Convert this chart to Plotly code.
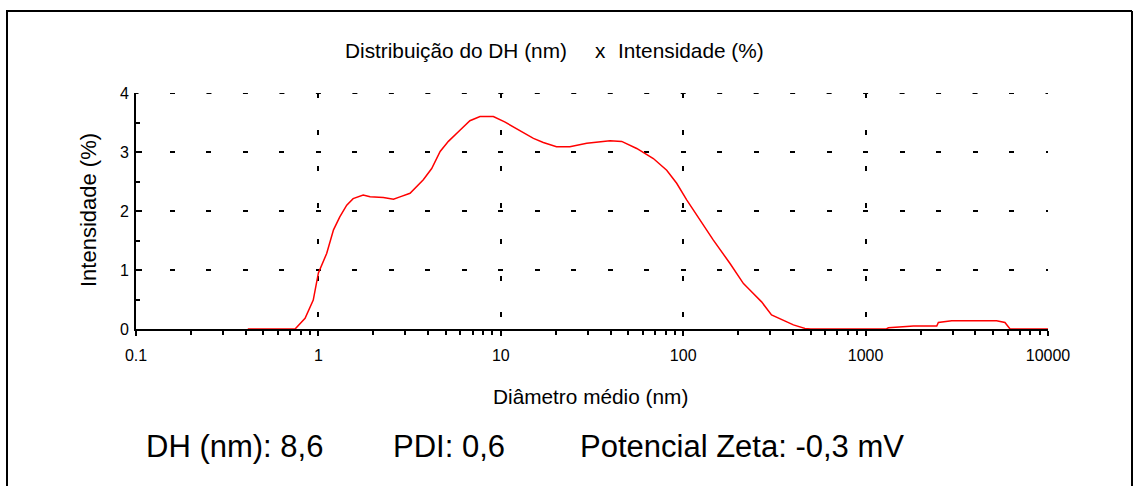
import plotly.graph_objects as go

# Data
diam_nm = [0.41, 0.745, 0.845, 0.937, 1.0, 1.11, 1.21, 1.31, 1.43, 1.55, 1.76, 1.92, 2.27, 2.58, 2.80,
           3.18, 3.76, 4.18, 4.65, 5.16, 5.97, 6.77, 7.69, 9.1, 10.5, 12.7, 15.1, 17.1, 20.2, 23.9,
           29.6, 39.7, 46.0, 55.6, 68.6, 81.2, 92.1, 104.5, 123.6, 146, 180.6, 214, 232, 269, 305,
           354, 402, 465, 500, 1300, 1334, 1832, 2455, 2506, 2966, 5227, 5807, 6194, 10000]
intensity = [0, 0, 0.18, 0.49, 0.95, 1.28, 1.68, 1.90, 2.10, 2.21, 2.27, 2.24, 2.23, 2.20, 2.24,
             2.30, 2.53, 2.72, 3.01, 3.18, 3.37, 3.53, 3.60, 3.60, 3.51, 3.37, 3.23, 3.16, 3.09, 3.09,
             3.15, 3.19, 3.18, 3.06, 2.89, 2.69, 2.47, 2.19, 1.85, 1.51, 1.11, 0.77, 0.66, 0.46, 0.24,
             0.15, 0.07, 0.01, 0, 0, 0.02, 0.05, 0.05, 0.11, 0.14, 0.14, 0.11, 0, 0]

x_tickvals = [0.1, 1, 10, 100, 1000, 10000]
x_ticktext = ["0.1", "1", "10", "100", "1000", "10000"]
y_tickvals = [0, 1, 2, 3, 4]
y_max = 4

title_parts = ["Distribuição do DH (nm)", "x", "Intensidade (%)"]
x_title = "Diâmetro médio (nm)"
y_title = "Intensidade (%)"
stats = ["DH (nm): 8,6", "PDI: 0,6", "Potencial Zeta: -0,3 mV"]

W, H = 1134, 486
L, R, T, B = 136, 1048, 93, 329  # plot area in pixels
HDASH = "2.5px,31.48px,2.5px,0px"


def px(xp):
    return (xp - L) / (R - L)


def py(yp):
    return (B - yp) / (B - T)


FONT = "Liberation Sans, Arial, sans-serif"

fig = go.Figure()
fig.add_trace(go.Scatter(x=diam_nm, y=intensity, mode="lines",
                         line=dict(color="#ff0000", width=1.5), showlegend=False,
                         hoverinfo="skip"))

fig.update_layout(
    width=W, height=H,
    margin=dict(l=L, r=W - R, t=T, b=H - B),
    paper_bgcolor="white", plot_bgcolor="white",
    font=dict(family=FONT, color="black"),
    xaxis=dict(type="log", range=[-1, 4], tickvals=x_tickvals, ticktext=x_ticktext,
               showline=True, linecolor="black", linewidth=2,
               ticks="outside", ticklen=5, tickcolor="black", tickwidth=1.5,
               tickfont=dict(size=16, color="black"), ticklabelstandoff=6,
               showgrid=True, gridcolor="black", gridwidth=2, griddash="5px,31.5px",
               minor=dict(ticks="outside", ticklen=4, tickcolor="black", tickwidth=1.5,
                          dtick="D1", showgrid=False),
               zeroline=False),
    yaxis=dict(range=[0, y_max], tickvals=y_tickvals,
               showline=True, linecolor="black", linewidth=2,
               ticks="inside", ticklen=6, tickcolor="black", tickwidth=1.5,
               tickfont=dict(size=16, color="black"), ticklabelstandoff=2,
               showgrid=True, gridcolor="black", gridwidth=2,
               griddash=HDASH,
               minor=dict(ticks="inside", ticklen=4, tickcolor="black", tickwidth=1.5,
                          dtick=0.5, showgrid=False),
               zeroline=False),
)

ann = []
ann.append(dict(text=title_parts[0], x=px(343), y=py(50), xanchor="left", yanchor="middle",
                font=dict(size=20.8)))
ann.append(dict(text=title_parts[1], x=px(593), y=py(50), xanchor="left", yanchor="middle",
                font=dict(size=20.8)))
ann.append(dict(text=title_parts[2], x=px(616), y=py(50), xanchor="left", yanchor="middle",
                font=dict(size=20.8)))
ann.append(dict(text=x_title, x=px(590), y=py(396), xanchor="center", yanchor="middle",
                font=dict(size=20.8)))
ann.append(dict(text=y_title, x=px(88), y=py(210), xanchor="center", yanchor="middle",
                textangle=-90, font=dict(size=22)))
for s, xp in zip(stats, [144, 391, 578]):
    ann.append(dict(text=s, x=px(xp), y=py(446), xanchor="left", yanchor="middle",
                    font=dict(size=31)))
for a in ann:
    a.update(xref="paper", yref="paper", showarrow=False)
fig.update_layout(annotations=ann)

# frame
shapes = [
    dict(type="line", x0=px(7), x1=px(7), y0=py(11), y1=py(490),
         xref="paper", yref="paper", line=dict(color="black", width=2)),
    dict(type="line", x0=px(6), x1=px(1132), y0=py(11), y1=py(11),
         xref="paper", yref="paper", line=dict(color="black", width=2)),
    dict(type="line", x0=px(1132), x1=px(1132), y0=py(11), y1=py(490),
         xref="paper", yref="paper", line=dict(color="black", width=2)),
    # top gridline (at y = 4, the range edge)
    dict(type="line", x0=0, x1=1, y0=y_max, y1=y_max, xref="paper", yref="y",
         line=dict(color="black", width=2, dash=HDASH)),
]
fig.update_layout(shapes=shapes)

fig.write_html("out.html")
